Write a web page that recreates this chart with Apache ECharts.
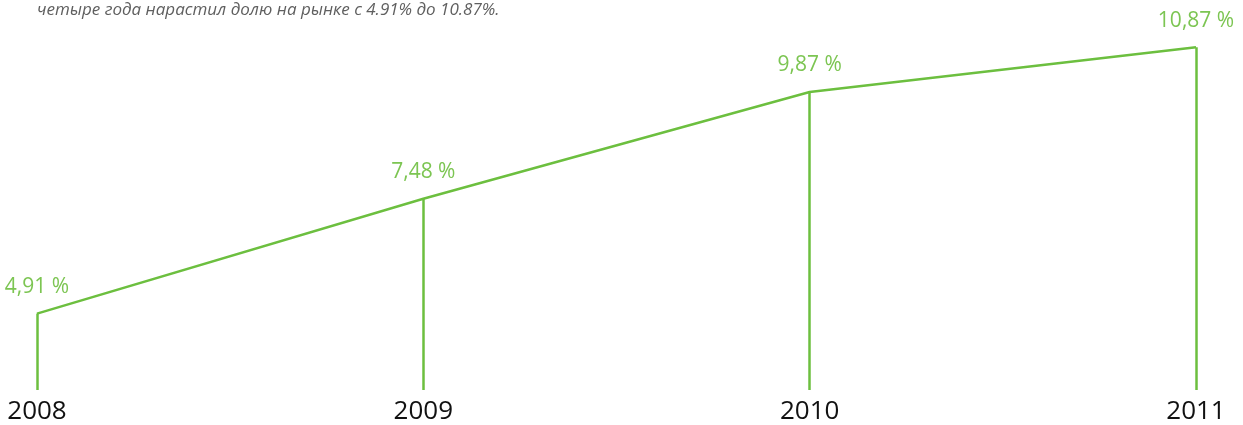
<!DOCTYPE html>
<html>
<head>
<meta charset="utf-8">
<script src="https://cdn.jsdelivr.net/npm/echarts@6/dist/echarts.min.js"></script>
<style>
html,body{margin:0;padding:0;background:#fff;}
#chart{width:1243px;height:425px;}
</style>
</head>
<body>
<div id="chart"></div>
<script>
const titleText = 'четыре года нарастил долю на рынке с 4.91% до 10.87%.';
const years = ['2008', '2009', '2010', '2011'];
const shares = [4.91, 7.48, 9.87, 10.87];
const yMin = 3.2;
const yMax = 11.93;

const green = '#6cbf3f';
const labelGreen = '#7cc552';

const chart = echarts.init(document.getElementById('chart'));
chart.setOption({
  animation: false,
  backgroundColor: '#fff',
  title: {
    text: titleText,
    left: 32,
    top: -3,
    textStyle: {
      fontFamily: 'Open Sans',
      fontStyle: 'italic',
      fontWeight: 'normal',
      fontSize: 17,
      color: '#5f5f5f'
    }
  },
  grid: { left: 37, right: 47, top: 0, height: 393 },
  xAxis: {
    type: 'category',
    data: years,
    boundaryGap: false,
    axisLine: { show: false },
    axisTick: { show: false },
    axisLabel: {
      margin: 9,
      fontFamily: 'Open Sans',
      fontSize: 26,
      color: '#111',
      hideOverlap: false,
      interval: 0
    }
  },
  yAxis: {
    type: 'value',
    min: yMin,
    max: yMax,
    show: false,
    splitLine: { show: false }
  },
  series: [{
    type: 'line',
    data: shares,
    symbol: 'circle',
    symbolSize: 0.1,
    showSymbol: true,
    itemStyle: { color: green },
    lineStyle: { color: green, width: 2.5 },
    label: {
      show: true,
      position: 'top',
      distance: 16,
      fontFamily: 'Open Sans',
      fontSize: 21,
      color: labelGreen,
      formatter: p => p.value.toFixed(2).replace('.', ',') + ' %'
    },
    markLine: {
      silent: true,
      symbol: ['none', 'none'],
      label: { show: false },
      lineStyle: { color: green, width: 2.5, type: 'solid' },
      data: years.map((y, i) => [
        { coord: [y, yMin] },
        { coord: [y, shares[i]] }
      ])
    }
  }]
});
</script>
</body>
</html>
